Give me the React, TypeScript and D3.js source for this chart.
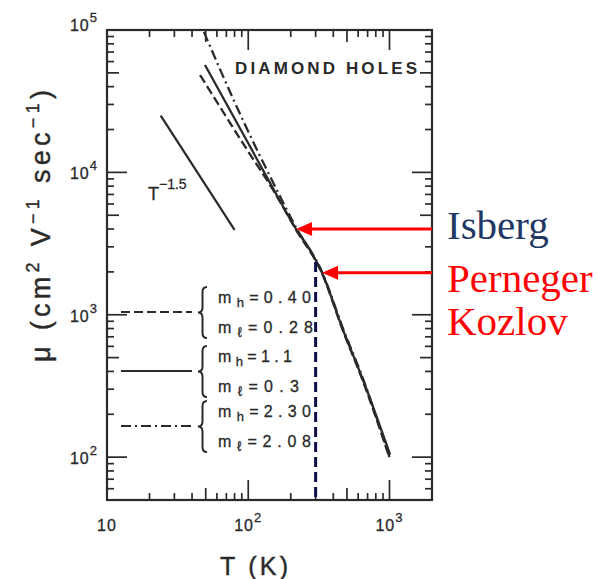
import React from "react";
import * as d3 from "d3";

// ---- data ----
const solidT = [49.4, 100, 142.6, 218, 274, 333, 469, 650, 1010];
const solidMu = [56800, 16000, 8440, 4000, 2850, 1970, 782, 348, 104];
const dashDotT = [48.5, 78, 173, 218, 333, 469, 650, 1000];
const dashDotMu = [97000, 33000, 6400, 4100, 2000, 800, 355, 100];
const dashedT = [45.6, 100, 150, 218, 333, 469, 650, 990];
const dashedMu = [48300, 14000, 7520, 3950, 1950, 770, 340, 102];
const powerT = [24, 80];
const powerMu = [25000, 3950];

const xTickLabels = [10, 100, 1000];
const yTickLabels = [100, 1000, 10000, 100000];

const legendMh = ["0.40", "1.1", "2.30"];
const legendMl = ["0.28", "0.3", "2.08"];
const legendStyles = ["dashed", "solid", "dashdot"];

const isbergPoint = { T: 218, mu: 4000 };
const pernegerPoint = { T: 333, mu: 1970 };
const roomT = 300;
const roomMuTop = 2350;

// ---- layout ----
const W = 598, H = 579;
const L = 107, R = 432, TOP = 30, B = 500;
const x = d3.scaleLog().domain([10, 2000]).range([L, R]);
const y = d3.scaleLog().domain([50, 100000]).range([B, TOP]);

const sans = "'Liberation Sans', Arial, Helvetica, sans-serif";
const serif = "'Liberation Serif', 'Times New Roman', serif";
const ink = "#2a2a2a";

const dashFor: Record<string, string | undefined> = {
  solid: undefined,
  dashed: "9 4",
  dashdot: "10 4 2 4",
};

function ticks(domain: [number, number]) {
  const out: { v: number; k: number }[] = [];
  for (let e = 0; e <= 6; e++) {
    for (let k = 1; k <= 9; k++) {
      const v = k * Math.pow(10, e);
      if (v > domain[0] * 1.0001 && v < domain[1] * 0.9999) out.push({ v, k });
    }
  }
  return out;
}
const tlen = (k: number) => (k === 1 ? 20 : k === 5 ? 12 : 7);

function bracePath(bx: number, y0: number, y1: number, w = 9) {
  const ym = (y0 + y1) / 2;
  const xm = bx + w * 0.5;
  return `M${bx + w},${y0} Q${xm},${y0} ${xm},${y0 + 5} L${xm},${ym - 5} Q${xm},${ym} ${bx},${ym} Q${xm},${ym} ${xm},${ym + 5} L${xm},${y1 - 5} Q${xm},${y1} ${bx + w},${y1}`;
}

const sup = (n: number) => String(Math.round(Math.log10(n)));

export default function App() {
  const line = d3
    .line<[number, number]>()
    .x((d) => x(d[0]))
    .y((d) => y(d[1]))
    .curve(d3.curveMonotoneX);

  const series = [
    { T: dashedT, mu: dashedMu, style: "dashed" },
    { T: solidT, mu: solidMu, style: "solid" },
    { T: dashDotT, mu: dashDotMu, style: "dashdot" },
  ];

  const xt = ticks([10, 2000]);
  const yt = ticks([50, 100000]);

  const legendY = [312, 371, 426];
  const mhLen = [93, 74, 93];
  const mlLen = [95, 81, 93];

  return (
    <svg
      width={W}
      height={H}
      style={{ position: "absolute", left: 0, top: 0, background: "#fff" }}
      fontFamily={sans}
    >
      <rect x={0} y={0} width={W} height={H} fill="#fff" />
      {/* frame */}
      <rect x={L} y={TOP} width={R - L} height={B - TOP} fill="none" stroke={ink} strokeWidth={2.2} />
      {/* ticks */}
      <g stroke={ink} strokeWidth={1.7}>
        {xt.map((t, i) => (
          <g key={"x" + i}>
            <line x1={x(t.v)} x2={x(t.v)} y1={B} y2={B - tlen(t.k)} />
            <line x1={x(t.v)} x2={x(t.v)} y1={TOP} y2={TOP + tlen(t.k)} />
          </g>
        ))}
        {yt.map((t, i) => (
          <g key={"y" + i}>
            <line x1={L} x2={L + tlen(t.k)} y1={y(t.v)} y2={y(t.v)} />
            <line x1={R} x2={R - tlen(t.k)} y1={y(t.v)} y2={y(t.v)} />
          </g>
        ))}
      </g>
      {/* tick labels */}
      <g fill={ink} fontSize={16} stroke={ink} strokeWidth={0.3}>
        {xTickLabels.map((v) => (
          <text key={v} x={x(v)} y={531} textAnchor="middle" letterSpacing={1}>
            10
            {v > 10 ? (
              <tspan fontSize={13} dy={-9}>
                {sup(v)}
              </tspan>
            ) : null}
          </text>
        ))}
        {yTickLabels.map((v) => (
          <text key={v} x={98} y={y(v) + (v === 100000 ? 1 : 7)} textAnchor="end" letterSpacing={1}>
            10
            <tspan fontSize={13} dy={-9}>
              {sup(v)}
            </tspan>
          </text>
        ))}
      </g>
      {/* axis titles */}
      <text x={254} y={575} textAnchor="middle" fontSize={25} fill={ink} stroke={ink} strokeWidth={0.4} textLength={68} lengthAdjust="spacing">
        T (K)
      </text>
      <text
        transform="translate(50,226) rotate(-90)"
        textAnchor="middle"
        fontSize={27}
        fill={ink}
        stroke={ink}
        strokeWidth={0.4}
        textLength={272}
        lengthAdjust="spacing"
      >
        μ (cm
        <tspan fontSize={18} dy={-11}>2</tspan>
        <tspan dy={11}> V</tspan>
        <tspan fontSize={18} dy={-11}>−1</tspan>
        <tspan dy={11}> sec</tspan>
        <tspan fontSize={18} dy={-11}>−1</tspan>
        <tspan dy={11}>)</tspan>
      </text>
      {/* DIAMOND HOLES */}
      <text x={235} y={74} fontSize={17} fontWeight="bold" fill={ink} textLength={182} lengthAdjust="spacing">
        DIAMOND HOLES
      </text>
      {/* T^-1.5 */}
      <line
        x1={x(powerT[0])}
        y1={y(powerMu[0])}
        x2={x(powerT[1])}
        y2={y(powerMu[1])}
        stroke={ink}
        strokeWidth={2.2}
      />
      <text x={148} y={200} fontSize={18} fill={ink} stroke={ink} strokeWidth={0.3}>
        T
        <tspan fontSize={14} dy={-11}>−1.5</tspan>
      </text>
      {/* curves */}
      {series.map((s) => (
        <path
          key={s.style}
          d={line(s.T.map((t, i) => [t, s.mu[i]] as [number, number])) || ""}
          fill="none"
          stroke={ink}
          strokeWidth={2.3}
          strokeDasharray={dashFor[s.style]}
        />
      ))}
      {/* legend */}
      {legendStyles.map((st, i) => {
        const ly = legendY[i];
        return (
          <g key={st}>
            <line
              x1={121}
              x2={192}
              y1={ly}
              y2={ly}
              stroke={ink}
              strokeWidth={2.2}
              strokeDasharray={dashFor[st]}
            />
            <path d={bracePath(198, ly - 25, ly + 26)} fill="none" stroke={ink} strokeWidth={2} />
            <text
              x={218}
              y={ly - 9}
              fontSize={16}
              fill={ink}
              stroke={ink}
              strokeWidth={0.3}
              textLength={mhLen[i]}
              lengthAdjust="spacing"
            >
              m
              <tspan fontSize={13} dy={4}>h</tspan>
              <tspan dy={-4}>{"=" + legendMh[i]}</tspan>
            </text>
            <text
              x={218}
              y={ly + 21}
              fontSize={16}
              fill={ink}
              stroke={ink}
              strokeWidth={0.3}
              textLength={mlLen[i]}
              lengthAdjust="spacing"
            >
              m
              <tspan fontSize={14} dy={4}>ℓ</tspan>
              <tspan dy={-4}>{"=" + legendMl[i]}</tspan>
            </text>
          </g>
        );
      })}
      {/* room temperature marker */}
      <line
        x1={x(roomT)}
        x2={x(roomT)}
        y1={y(roomMuTop)}
        y2={B}
        stroke="#0d0d4a"
        strokeWidth={3}
        strokeDasharray="10 5"
      />
      {/* arrows */}
      {[isbergPoint, pernegerPoint].map((p, i) => {
        const tx = x(p.T);
        const ty = y(p.mu);
        return (
          <g key={i}>
            <line x1={R} x2={tx + 12} y1={ty} y2={ty} stroke="#ff0000" strokeWidth={3} />
            <path d={`M${tx},${ty} L${tx + 16},${ty - 7} L${tx + 16},${ty + 7} Z`} fill="#ff0000" />
          </g>
        );
      })}
      <text x={447} y={239} fontFamily={serif} fontSize={41} fill="#1f3864">
        Isberg
      </text>
      <text x={447} y={292} fontFamily={serif} fontSize={41} fill="#ff0000">
        Perneger
      </text>
      <text x={447} y={335} fontFamily={serif} fontSize={41} fill="#ff0000">
        Kozlov
      </text>
    </svg>
  );
}
